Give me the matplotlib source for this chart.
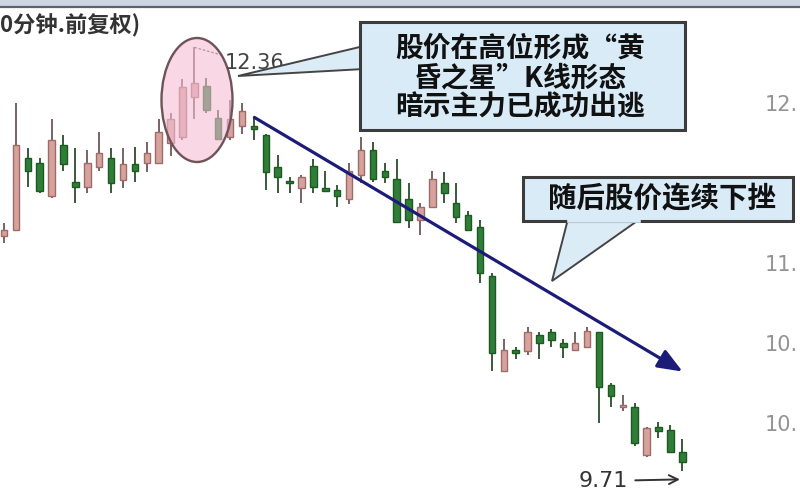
import matplotlib
matplotlib.use("Agg")
import matplotlib.pyplot as plt
import matplotlib.transforms as mtrans
from matplotlib.patches import Ellipse, Rectangle, Polygon, FancyArrowPatch
import numpy as np

plt.rcParams['font.family'] = ['Noto Sans CJK SC', 'DejaVu Sans']

# ---------------- data ----------------
opens = [11.18, 11.22, 11.67, 11.64, 11.43, 11.75, 11.52, 11.49, 11.61, 11.67,
         11.53, 11.63, 11.64, 11.64, 11.76, 11.80, 12.05, 12.12, 11.92, 11.80,
         11.87, 11.86, 11.81, 11.61, 11.52, 11.48, 11.62, 11.48, 11.47, 11.41,
         11.56, 11.72, 11.59, 11.54, 11.41, 11.28, 11.36, 11.51, 11.39, 11.31,
         11.24, 10.93, 10.34, 10.47, 10.46, 10.56, 10.58, 10.51, 10.47, 10.49,
         10.58, 10.25, 10.11, 10.11, 9.81, 9.99, 9.97, 9.83]
closes = [11.22, 11.75, 11.59, 11.46, 11.78, 11.63, 11.49, 11.64, 11.70, 11.51,
          11.63, 11.59, 11.70, 11.83, 11.91, 12.11, 12.14, 11.97, 11.79, 11.91,
          11.96, 11.85, 11.58, 11.55, 11.51, 11.55, 11.49, 11.46, 11.43, 11.59,
          11.72, 11.54, 11.55, 11.27, 11.28, 11.36, 11.54, 11.45, 11.30, 11.22,
          10.95, 10.45, 10.47, 10.45, 10.58, 10.51, 10.53, 10.49, 10.51, 10.59,
          10.24, 10.18, 10.12, 9.89, 9.98, 9.96, 9.83, 9.77]
highs = [11.26, 12.01, 11.73, 11.67, 11.91, 11.81, 11.73, 11.72, 11.83, 11.73,
         11.73, 11.74, 11.77, 11.91, 11.95, 12.16, 12.36, 12.17, 11.97, 12.03,
         12.01, 11.92, 11.82, 11.69, 11.55, 11.56, 11.66, 11.59, 11.50, 11.64,
         11.80, 11.77, 11.64, 11.66, 11.51, 11.39, 11.59, 11.58, 11.51, 11.34,
         11.28, 10.95, 10.54, 10.49, 10.61, 10.58, 10.60, 10.54, 10.58, 10.61,
         10.58, 10.26, 10.19, 10.14, 9.99, 10.02, 10.00, 9.91]
lows = [11.14, 11.21, 11.49, 11.45, 11.42, 11.59, 11.39, 11.45, 11.59, 11.45,
        11.48, 11.52, 11.58, 11.64, 11.68, 11.78, 11.91, 11.95, 11.78, 11.78,
        11.82, 11.78, 11.47, 11.45, 11.45, 11.39, 11.45, 11.46, 11.36, 11.38,
        11.51, 11.52, 11.51, 11.27, 11.23, 11.19, 11.36, 11.39, 11.26, 11.22,
        10.89, 10.34, 10.33, 10.41, 10.44, 10.41, 10.49, 10.42, 10.46, 10.48,
        10.01, 10.11, 10.09, 9.87, 9.80, 9.92, 9.83, 9.71]
ytick_values = [12.00, 11.00, 10.50, 10.00]
ytick_labels = ["12.", "11.", "10.", "10."]   # as visible (cut by frame)
title_text = "0分钟.前复权)"
peak_label = "12.36"
low_label = "9.71"
callout1 = "股价在高位形成“黄\n昏之星”K线形态\n暗示主力已成功出逃"
callout2 = "随后股价连续下挫"

# ---------------- figure ----------------
W, H = 800, 500
fig = plt.figure(figsize=(8, 5), dpi=100)
ax = fig.add_axes([0, 0, 1, 1])
ax.set_axis_off()

step = 11.9
x0 = 4.0
ax.set_xlim(-x0 / step, (W - x0) / step)
ax.set_ylim(12 - (H - 105) / 160.0, 12 + 105 / 160.0)

def P(x, y):
    """pixel (from top-left) -> figure fraction"""
    return (x / W, 1 - y / H)

n = len(opens)
xs = np.arange(n)
up_face, up_edge = '#d6a29e', '#a06a66'
dn_face, dn_edge = '#2f7d36', '#1d5a22'
for i in range(n):
    o, c, hi, lo = opens[i], closes[i], highs[i], lows[i]
    up = c >= o
    wick = '#7a6262' if up else '#3a5a3a'
    ax.vlines(xs[i], lo, hi, color=wick, lw=1.4, zorder=2)
    bottom = min(o, c)
    height = max(abs(c - o), 0.018)
    ax.bar(xs[i], height, bottom=bottom, width=0.55,
           color=up_face if up else dn_face,
           edgecolor=up_edge if up else dn_edge, lw=1.0, zorder=3)

# y tick labels at right edge (cut off by the frame in the reference)
blend = mtrans.blended_transform_factory(ax.transAxes, ax.transData)
for v, lab in zip(ytick_values, ytick_labels):
    ax.text(765 / W, v, lab, transform=blend, ha='left', va='center',
            fontsize=15, color='#939393', family='DejaVu Sans', zorder=1)

# top bar
fig.patches.append(Rectangle(P(0, 6), 1, 6 / H, transform=fig.transFigure,
                             facecolor='#cdd5e0', edgecolor='none', zorder=5))
fig.lines.append(plt.Line2D([0, 1], [1 - 6.5 / H] * 2, transform=fig.transFigure,
                            color='#5a6270', lw=1.6, zorder=6))

# title
fig.text(*P(0, 26), title_text, ha='left', va='center', fontsize=16,
         color='#333333', fontweight='bold')

# ellipse around the evening star
ell = Ellipse(P(197, 100), 71 / W, 124 / H, transform=fig.transFigure,
              facecolor='#f5bdd5', edgecolor='none', alpha=0.6, zorder=4)
fig.patches.append(ell)
ell2 = Ellipse(P(197, 100), 71 / W, 124 / H, transform=fig.transFigure,
               facecolor='none', edgecolor='#6e5458', lw=1.7, zorder=4)
fig.patches.append(ell2)

# peak label with dashed leader
ix_peak = int(np.argmax(highs))
ax.plot([xs[ix_peak], xs[ix_peak] + 2.4], [highs[ix_peak], highs[ix_peak] - 0.05],
        ls=(0, (2, 1.5)), color='#555555', lw=0.9, zorder=5)
fig.text(*P(225, 63), peak_label, ha='left', va='center', fontsize=15,
         color='#444444', family='DejaVu Sans', zorder=6)

# callout box 1 with wedge
fig.patches.append(Polygon([P(364, 46), P(238, 76), P(364, 69)], closed=True,
                           transform=fig.transFigure, facecolor='#dcecf7',
                           edgecolor='#444444', lw=1.4, zorder=7))
fig.patches.append(Rectangle(P(360, 130), 325 / W, 108 / H, transform=fig.transFigure,
                             facecolor='#d8ebf7', edgecolor='#3c3c3c', lw=2.2, zorder=8))
fig.text(*P(520, 78), callout1, ha='center', va='center', fontsize=20,
         fontweight='bold', color='#111111', linespacing=1.05, zorder=10)

# navy trend arrow
arr = FancyArrowPatch(P(252, 116), P(685, 373), transform=fig.transFigure,
                      arrowstyle='-|>,head_length=10,head_width=4', mutation_scale=1.5,
                      color='#1c1c78', lw=2.3, zorder=6)
fig.patches.append(arr)

# callout box 2 with wedge
fig.patches.append(Polygon([P(568, 219), P(552, 281), P(640, 219)], closed=True,
                           transform=fig.transFigure, facecolor='#dcecf7',
                           edgecolor='#444444', lw=1.4, zorder=7))
fig.patches.append(Rectangle(P(523, 221), 270 / W, 44 / H, transform=fig.transFigure,
                             facecolor='#d8ebf7', edgecolor='#3c3c3c', lw=2.2, zorder=8))
fig.lines.append(plt.Line2D([569 / W, 639 / W], [1 - 221 / H] * 2, transform=fig.transFigure,
                            color='#d8ebf7', lw=2.6, zorder=9))
fig.text(*P(662, 199), callout2, ha='center', va='center', fontsize=20.5,
         fontweight='bold', color='#111111', zorder=10)

# low label with arrow
ix_low = int(np.argmin(lows))
ax.annotate(low_label, xy=(xs[ix_low] - 0.2, lows[ix_low] - 0.05),
            xytext=(579, 19), textcoords='figure pixels',
            ha='left', va='center', fontsize=16, color='#333333', family='DejaVu Sans',
            arrowprops=dict(arrowstyle='->', color='#333333', lw=1.4,
                            shrinkA=3, shrinkB=0), zorder=6)

fig.savefig("out.png", dpi=100, facecolor='white')
